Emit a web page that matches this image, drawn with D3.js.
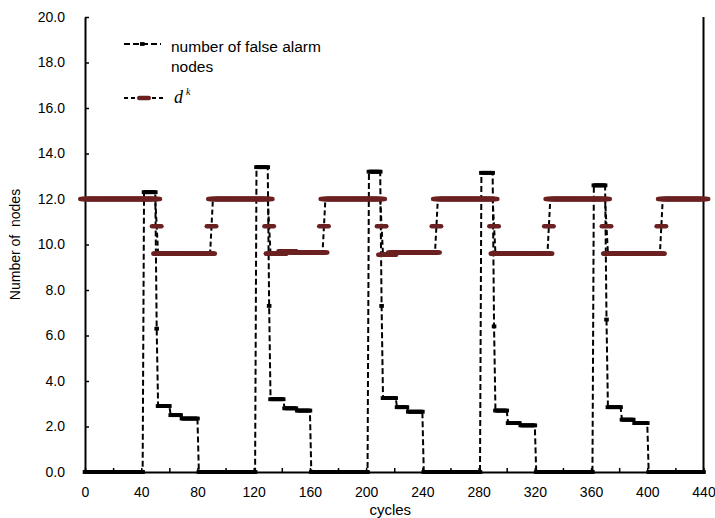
<!DOCTYPE html>
<html>
<head>
<meta charset="utf-8">
<script src="https://cdn.jsdelivr.net/npm/d3@7"></script>
<style>
  html, body { margin: 0; padding: 0; background: #fff; }
  svg { display: block; }
  text { font-family: "Liberation Sans", Arial, sans-serif; fill: #000; }
</style>
</head>
<body>
<svg id="chart" width="715" height="518"></svg>
<script>
// ---------- data ----------
// x axis: cycles, one sample per cycle from 0 to 440
const xTicks = [0, 40, 80, 120, 160, 200, 240, 280, 320, 360, 400, 440];
const xMinorTicks = [0, 20, 40, 60, 80, 100, 120, 140, 160, 180, 200, 220, 240, 260, 280, 300, 320, 340, 360, 380, 400, 420, 440];
const yTicks = [0, 2, 4, 6, 8, 10, 12, 14, 16, 18, 20];

// number of false alarm nodes: [value, number of consecutive cycles]
const falseAlarmSteps = [
  [0, 42], [12.3, 9], [6.3, 1], [2.9, 9], [2.5, 8], [2.35, 12],
  [0, 41], [13.4, 9], [7.3, 1], [3.2, 10], [2.8, 9], [2.7, 10],
  [0, 41], [13.2, 9], [7.3, 1], [3.25, 10], [2.85, 8], [2.65, 11],
  [0, 41], [13.15, 9], [6.4, 1], [2.7, 9], [2.15, 9], [2.05, 11],
  [0, 41], [12.6, 9], [6.7, 1], [2.85, 10], [2.3, 9], [2.15, 10],
  [0, 40]
];

// d^k: [value, number of consecutive cycles]
const dkSteps = [
  [12, 51], [10.8, 1], [9.6, 38], [10.8, 1],
  [12, 40], [10.8, 1], [9.6, 9], [9.7, 7], [9.65, 22], [10.8, 1],
  [12, 40], [10.8, 1], [9.55, 7], [9.65, 31], [10.8, 1],
  [12, 40], [10.8, 1], [9.6, 38], [10.8, 1],
  [12, 40], [10.8, 1], [9.6, 38], [10.8, 1],
  [12, 30]
];

const seriesNames = ["number of false alarm", "nodes"];

// expand run-lengths to one point per cycle
function expand(steps) {
  const out = [];
  let c = 0;
  steps.forEach(([v, n]) => { for (let i = 0; i < n; i++) out.push({ c: c++, v: v }); });
  return out;
}
const falseAlarm = expand(falseAlarmSteps);
const dk = expand(dkSteps);

// ---------- drawing ----------
const svg = d3.select("#chart");
const mLeft = 85, mRight = 703.5, mTop = 17, mBottom = 472;
const x = d3.scaleLinear().domain([0, 440]).range([mLeft, mRight]);
const y = d3.scaleLinear().domain([0, 20]).range([mBottom, mTop]);
const RED = "#6b2121";

// axes
const yAxis = d3.axisLeft(y).tickValues(yTicks).tickSizeInner(-4).tickSizeOuter(0)
  .tickPadding(20).tickFormat(d3.format(".1f"));
const gy = svg.append("g").attr("transform", `translate(${mLeft},0)`).call(yAxis);
gy.selectAll("text").style("font-size", "14px");
gy.selectAll(".tick line").attr("stroke-width", 1.5);
gy.select(".domain").attr("stroke-width", 2);

const xAxis = d3.axisBottom(x).tickValues(xMinorTicks).tickSizeInner(-4).tickSizeOuter(0)
  .tickPadding(15).tickFormat(d => (xTicks.includes(d) ? d : ""));
const gx = svg.append("g").attr("transform", `translate(0,${mBottom})`).call(xAxis);
gx.selectAll("text").style("font-size", "14px");
gx.selectAll(".tick line").attr("stroke-width", 1.5);
gx.select(".domain").attr("stroke-width", 2);

// right border
svg.append("line").attr("x1", mRight).attr("x2", mRight).attr("y1", y(20)).attr("y2", y(0))
  .attr("stroke", "#000").attr("stroke-width", 2);

// axis titles
svg.append("text").attr("x", (mLeft + mRight) / 2 - 4).attr("y", 515).attr("text-anchor", "middle")
  .style("font-size", "15px").text("cycles");
svg.append("text").attr("transform", `translate(20,${(mTop + mBottom) / 2}) rotate(-90)`)
  .attr("text-anchor", "middle").style("font-size", "14px").style("white-space", "pre")
  .text("Number of  nodes");

const line = d3.line().x(d => x(d.c)).y(d => y(d.v));

// series 1: false alarm nodes
svg.append("path").datum(falseAlarm).attr("d", line).attr("fill", "none")
  .attr("stroke", "#000").attr("stroke-width", 2).attr("stroke-dasharray", "6,3");
svg.append("g").selectAll("rect").data(falseAlarm).join("rect")
  .attr("x", d => x(d.c) - 2.3).attr("y", d => y(d.v) - 1.9)
  .attr("width", 4.6).attr("height", 3.8).attr("fill", "#000");

// series 2: d^k
svg.append("path").datum(dk).attr("d", line).attr("fill", "none")
  .attr("stroke", "#000").attr("stroke-width", 2).attr("stroke-dasharray", "5,3");
svg.append("g").selectAll("rect").data(dk).join("rect")
  .attr("x", d => x(d.c) - 7).attr("y", d => y(d.v) - 2.3)
  .attr("width", 14).attr("height", 4.6).attr("rx", 2.3).attr("fill", RED);

// legend
const lg = svg.append("g");
lg.append("line").attr("x1", 124).attr("x2", 161).attr("y1", 44).attr("y2", 44)
  .attr("stroke", "#000").attr("stroke-width", 2).attr("stroke-dasharray", "6,3");
lg.append("rect").attr("x", 140).attr("y", 42.1).attr("width", 4.6).attr("height", 3.8).attr("fill", "#000");
lg.append("text").attr("x", 171).attr("y", 52).style("font-size", "15.5px").text(seriesNames[0]);
lg.append("text").attr("x", 171).attr("y", 72).style("font-size", "15.5px").text(seriesNames[1]);

lg.append("line").attr("x1", 124).attr("x2", 163).attr("y1", 98).attr("y2", 98)
  .attr("stroke", "#000").attr("stroke-width", 2).attr("stroke-dasharray", "4,3");
lg.append("rect").attr("x", 137).attr("y", 95.7).attr("width", 14).attr("height", 4.6)
  .attr("rx", 2.3).attr("fill", RED);
const dt = lg.append("text").attr("x", 174).attr("y", 103)
  .style("font-family", "'Liberation Serif', 'Times New Roman', serif").style("font-style", "italic")
  .style("font-size", "18px");
dt.append("tspan").text("d");
dt.append("tspan").attr("dx", 3).attr("dy", -8).style("font-size", "10px").text("k");
</script>
</body>
</html>
